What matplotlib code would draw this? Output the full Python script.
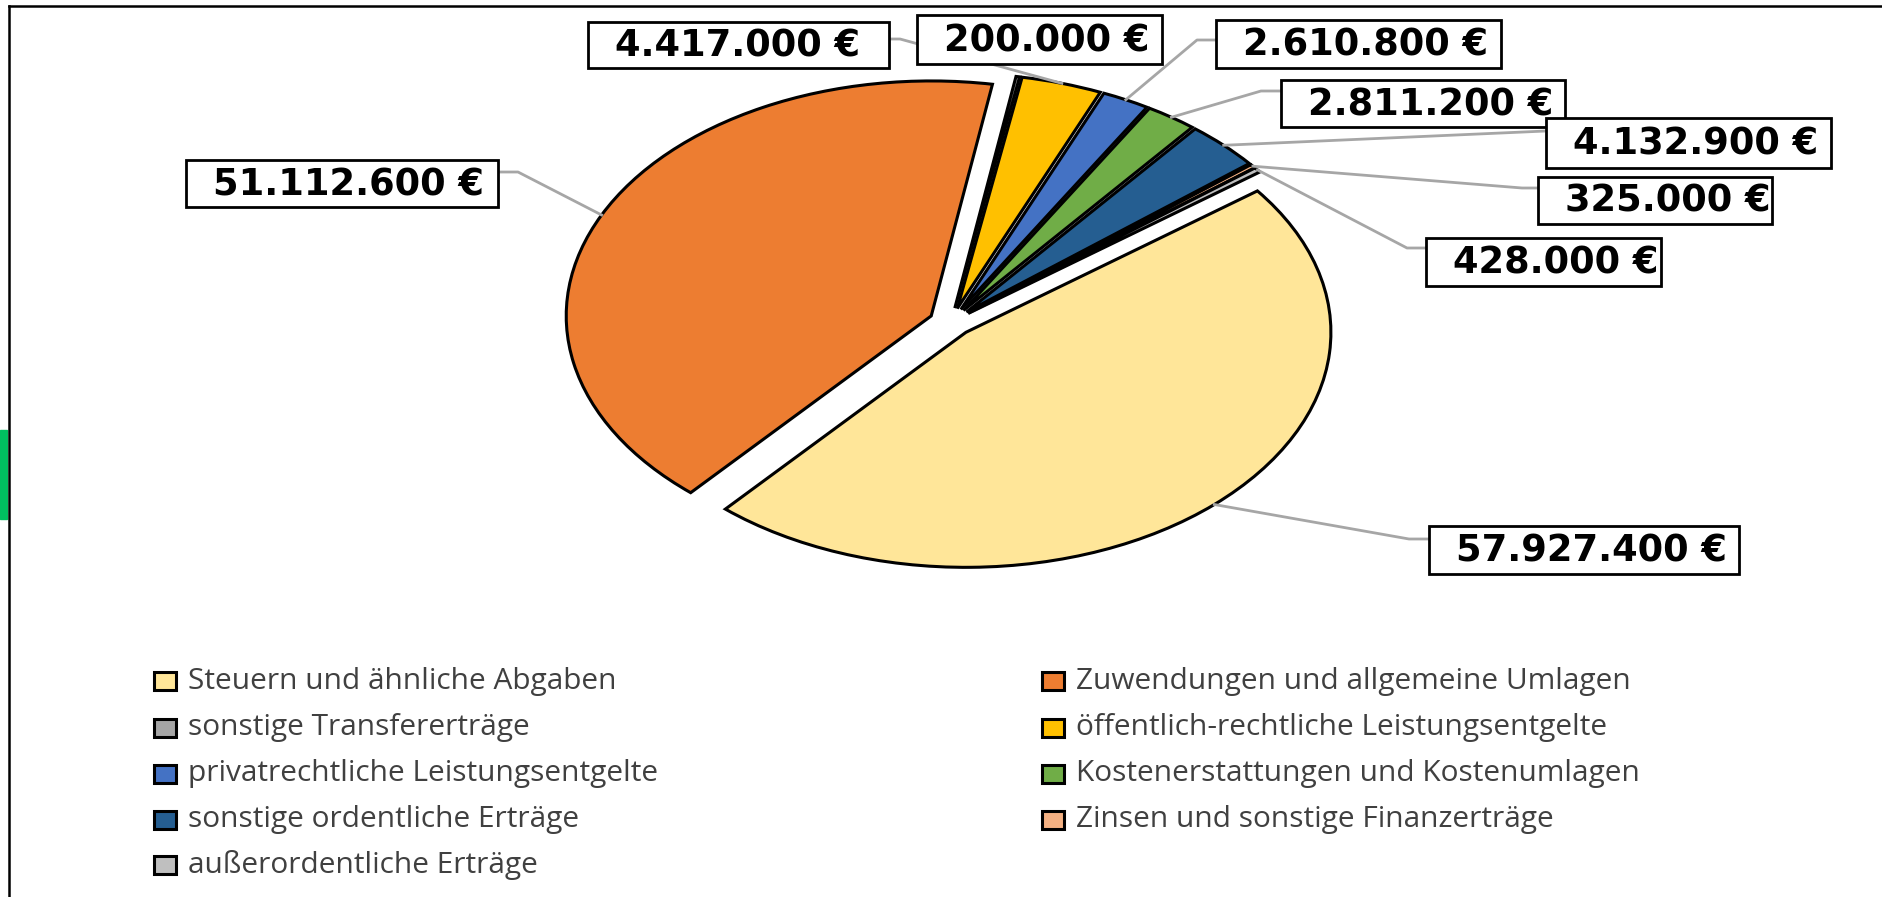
import numpy as np
import matplotlib
matplotlib.use('Agg')
import matplotlib.pyplot as plt
from matplotlib.patches import Rectangle

categories = ['Steuern und ähnliche Abgaben', 'Zuwendungen und allgemeine Umlagen',
              'sonstige Transfererträge', 'öffentlich-rechtliche Leistungsentgelte',
              'privatrechtliche Leistungsentgelte', 'Kostenerstattungen und Kostenumlagen',
              'sonstige ordentliche Erträge', 'Zinsen und sonstige Finanzerträge',
              'außerordentliche Erträge']
values = [57927400, 51112600, 200000, 4417000, 2610800, 2811200, 4132900, 325000, 428000]
colors = ['#FFE699', '#ED7D31', '#A5A5A5', '#FFC000', '#4472C4', '#70AD47',
          '#255E91', '#F4B183', '#BFBFBF']

W, H = 1883, 897
fig = plt.figure(figsize=(W / 100, H / 100), dpi=100)

# pie centre and radii in pixels (elliptical pie)
cx, cy, rx, ry = 951, 322, 365, 235
m = 1.3
ax = fig.add_axes([(cx - m * rx) / W, 1 - (cy + m * ry) / H, 2 * m * rx / W, 2 * m * ry / H])
wedges, _ = ax.pie(values, colors=colors, startangle=37, counterclock=False,
                   explode=[0.06] * len(values),
                   wedgeprops=dict(edgecolor='black', linewidth=2.2))
ax.set_aspect('auto')
ax.set_xlim(-m, m)
ax.set_ylim(-m, m)
ax.axis('off')

# overlay in pixel coordinates
ov = fig.add_axes([0, 0, 1, 1])
ov.set_xlim(0, W)
ov.set_ylim(H, 0)
ov.axis('off')

# label boxes (x0, y0, x1, y1) and leader attach point / elbow
boxes = [(1429, 526, 1739, 574), (186, 160, 498, 207), (917, 15, 1162, 64),
         (588, 22, 889, 68), (1216, 20, 1501, 68), (1281, 80, 1565, 127),
         (1546, 118, 1831, 168), (1538, 177, 1772, 224), (1426, 238, 1661, 286)]
leaders = [[(1429, 539), (1409, 539)], [(498, 172), (518, 172)], None,
           [(889, 39), (900, 39)], [(1216, 40), (1197, 40)], [(1281, 91), (1261, 91)],
           [(1546, 131)], [(1538, 188), (1522, 188)], [(1426, 248), (1407, 248)]]


def anchor(w):
    mid = np.deg2rad((w.theta1 + w.theta2) / 2)
    x = w.center[0] + w.r * np.cos(mid)
    y = w.center[1] + w.r * np.sin(mid)
    disp = ax.transData.transform((x, y))
    return ov.transData.inverted().transform(disp)


for w, v, box, lead in zip(wedges, values, boxes, leaders):
    if lead is not None:
        pts = lead + [tuple(anchor(w))]
        ov.plot([p[0] for p in pts], [p[1] for p in pts], color='#A6A6A6', lw=2.0, zorder=2)
    x0, y0, x1, y1 = box
    ov.add_patch(Rectangle((x0, y0), x1 - x0, y1 - y0, fc='white', ec='black', lw=2.0, zorder=3))
    txt = f"{v:,}".replace(',', '.') + ' €'
    ov.text(x0 + 27, (y0 + y1) / 2 + 1, txt, ha='left', va='center',
            fontsize=26.5, fontweight='bold', family='DejaVu Sans', color='black', zorder=4)

# legend, two columns, row-major order
leg_x = [154, 1042]
leg_y = [681, 728, 774, 820, 865]
for i, (c, lab) in enumerate(zip(colors, categories)):
    x = leg_x[i % 2]
    y = leg_y[i // 2]
    ov.add_patch(Rectangle((x, y - 9), 22, 18, fc=c, ec='black', lw=2.2))
    ov.text(x + 34, y, lab, ha='left', va='center', fontsize=21.5,
            family='Open Sans', color='#404040')

# chart frame and side marker
ov.plot([9, 9], [6, H], color='black', lw=1.8)
ov.plot([9, W], [6, 6], color='black', lw=1.8)
ov.add_patch(Rectangle((0, 430), 7, 89, color='#00C060'))

fig.savefig('out.png', dpi=100)
